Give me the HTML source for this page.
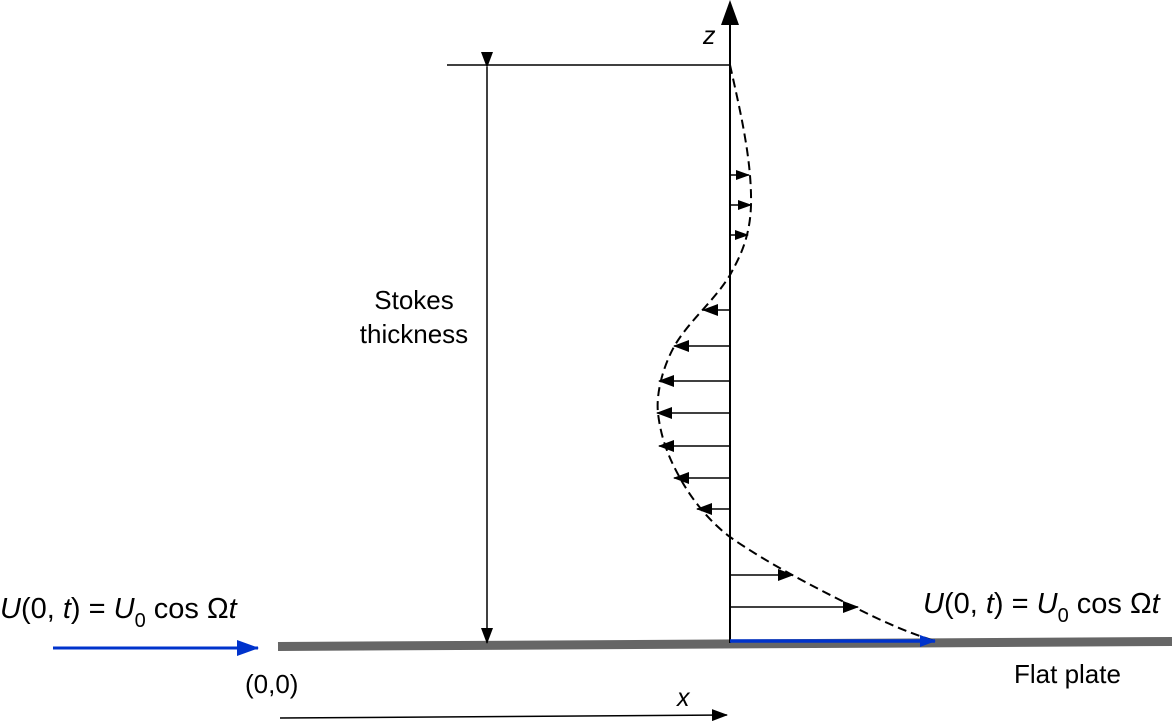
<!DOCTYPE html>
<html><head><style>
body{margin:0;background:#fff;}
svg{display:block;font-family:"Liberation Sans",Arial,sans-serif;}
</style></head><body>
<svg width="1172" height="725" viewBox="0 0 1172 725">
<defs>
<marker id="a" markerWidth="14" markerHeight="10" refX="13" refY="5" orient="auto" markerUnits="userSpaceOnUse"><path d="M0,0 L14,5 L0,10z" fill="#000"/></marker>
<marker id="a2" markerWidth="16" markerHeight="12" refX="15" refY="6" orient="auto" markerUnits="userSpaceOnUse"><path d="M0,0 L16,6 L0,12z" fill="#000"/></marker>
<marker id="b" markerWidth="22" markerHeight="16" refX="21" refY="8" orient="auto" markerUnits="userSpaceOnUse"><path d="M0,0 L22,8 L0,16z" fill="#0033cc"/></marker>
<marker id="bs" markerWidth="16" markerHeight="12" refX="15" refY="6" orient="auto" markerUnits="userSpaceOnUse"><path d="M0,0 L16,6 L0,12z" fill="#0033cc"/></marker>
</defs>
<path d="M278,646.5 L1172,641.5" stroke="#666" stroke-width="9"/>
<line x1="730" y1="643" x2="730" y2="24" stroke="#000" stroke-width="2"/>
<path d="M721,25 L730,0 L739,25z" fill="#000"/>
<text x="703" y="44" font-size="25" font-style="italic">z</text>
<line x1="447" y1="65" x2="730" y2="65" stroke="#000" stroke-width="1.5"/>
<line x1="487" y1="67" x2="487" y2="643" stroke="#000" stroke-width="1.5" marker-start="url(#a2)" marker-end="url(#a2)"/>
<text font-size="26" text-anchor="middle"><tspan x="414" y="309">Stokes</tspan><tspan x="414" y="343">thickness</tspan></text>
<path d="M730,65 C740,110 752,160 751,205 C750,240 738,260 730,275 C715,300 690,320 675,345 C662,368 656,395 658,413 C661,440 670,460 680,478 C692,500 710,522 730,537 C770,565 820,590 860,610 C890,625 915,635 935,641" fill="none" stroke="#000" stroke-width="2" stroke-dasharray="9,5"/>
<g stroke="#000" stroke-width="1.5">
<line x1="730" y1="175" x2="749" y2="175" marker-end="url(#a)"/>
<line x1="730" y1="205" x2="751" y2="205" marker-end="url(#a)"/>
<line x1="730" y1="235" x2="748" y2="235" marker-end="url(#a)"/>
<line x1="730" y1="310" x2="703" y2="310" marker-end="url(#a2)"/>
<line x1="730" y1="346" x2="674" y2="346" marker-end="url(#a2)"/>
<line x1="730" y1="381" x2="659" y2="381" marker-end="url(#a2)"/>
<line x1="730" y1="413" x2="657" y2="413" marker-end="url(#a2)"/>
<line x1="730" y1="446" x2="659" y2="446" marker-end="url(#a2)"/>
<line x1="730" y1="478" x2="674" y2="478" marker-end="url(#a2)"/>
<line x1="730" y1="509" x2="697" y2="509" marker-end="url(#a2)"/>
<line x1="730" y1="575" x2="793" y2="575" marker-end="url(#a2)"/>
<line x1="730" y1="607" x2="858" y2="607" marker-end="url(#a2)"/>
</g>
<line x1="730" y1="641" x2="935" y2="641" stroke="#0033cc" stroke-width="3.5" marker-end="url(#bs)"/>
<line x1="53" y1="648" x2="258" y2="648" stroke="#0033cc" stroke-width="3" marker-end="url(#b)"/>
<line x1="280" y1="718" x2="727" y2="715" stroke="#000" stroke-width="1.5" marker-end="url(#a2)"/>
<text x="677" y="706" font-size="25" font-style="italic">x</text>
<text x="0" y="618" font-size="29"><tspan font-style="italic">U</tspan>(0, <tspan font-style="italic">t</tspan>) = <tspan font-style="italic">U</tspan><tspan font-size="20" dy="9">0</tspan><tspan dy="-9"> cos Ω</tspan><tspan font-style="italic">t</tspan></text>
<text x="923" y="613" font-size="29"><tspan font-style="italic">U</tspan>(0, <tspan font-style="italic">t</tspan>) = <tspan font-style="italic">U</tspan><tspan font-size="20" dy="9">0</tspan><tspan dy="-9"> cos Ω</tspan><tspan font-style="italic">t</tspan></text>
<text x="245" y="693" font-size="26">(0,0)</text>
<text x="1014" y="683" font-size="26">Flat plate</text>
</svg>
</body></html>
